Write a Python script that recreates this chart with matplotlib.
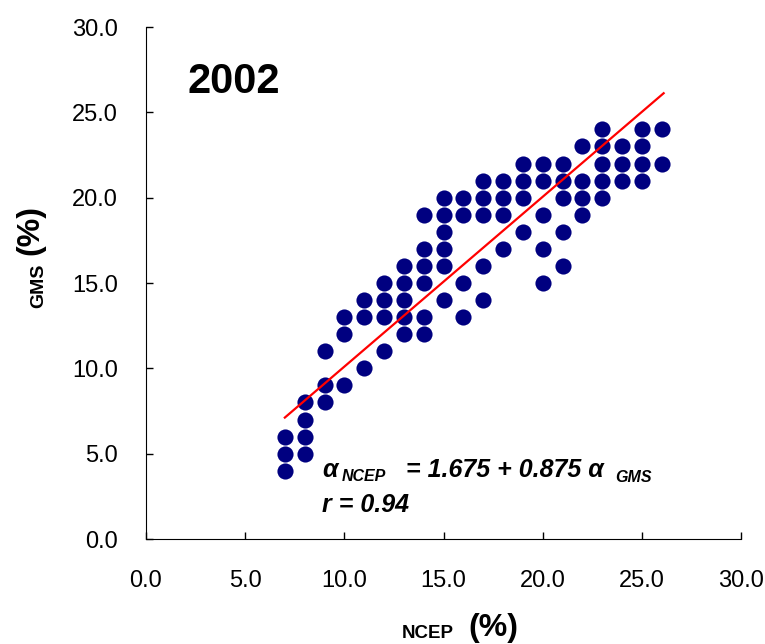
import matplotlib
matplotlib.use('Agg')
import matplotlib.pyplot as plt

# data (NCEP vs GMS, %)
ncep = [7, 7, 7,
        8, 8, 8, 8,
        9, 9, 9,
        10, 10, 10,
        11, 11, 11,
        12, 12, 12, 12,
        13, 13, 13, 13, 13,
        14, 14, 14, 14, 14, 14,
        15, 15, 15, 15, 15, 15,
        16, 16, 16, 16,
        17, 17, 17, 17, 17,
        18, 18, 18, 18,
        19, 19, 19, 19,
        20, 20, 20, 20, 20,
        21, 21, 21, 21, 21,
        22, 22, 22, 22,
        23, 23, 23, 23, 23,
        24, 24, 24,
        25, 25, 25, 25,
        26, 26]
gms = [4, 5, 6,
       5, 6, 7, 8,
       8, 9, 11,
       9, 12, 13,
       10, 13, 14,
       11, 13, 14, 15,
       12, 13, 14, 15, 16,
       12, 13, 15, 16, 17, 19,
       14, 16, 17, 18, 19, 20,
       13, 15, 19, 20,
       14, 16, 19, 20, 21,
       17, 19, 20, 21,
       18, 20, 21, 22,
       15, 17, 19, 21, 22,
       16, 18, 20, 21, 22,
       19, 20, 21, 23,
       20, 21, 22, 23, 24,
       21, 22, 23,
       21, 22, 23, 24,
       22, 24]

# fitted line as drawn on the chart
fit_slope = 0.995
fit_intercept = 0.15
fit_range = [7.0, 26.1]

ticks = [0, 5, 10, 15, 20, 25, 30]
tick_labels = ['0.0', '5.0', '10.0', '15.0', '20.0', '25.0', '30.0']

plt.rcParams['font.family'] = 'Liberation Sans'

W, H = 765, 644
fig = plt.figure(figsize=(W / 100, H / 100), dpi=100)
ax = fig.add_axes([146 / W, 1 - 539 / H, 595 / W, 512 / H])

ax.scatter(ncep, gms, s=135, color='#000080', zorder=2, linewidths=0)
line_y = [fit_intercept + fit_slope * v for v in fit_range]
ax.plot(fit_range, line_y, color='red', lw=1.6, zorder=3)

ax.set_xlim(0, 30)
ax.set_ylim(0, 30)
ax.set_xticks(ticks)
ax.set_xticklabels(tick_labels)
ax.set_yticks(ticks)
ax.set_yticklabels(tick_labels)
ax.spines['top'].set_visible(False)
ax.spines['right'].set_visible(False)
ax.tick_params(direction='in', length=5, width=1, labelsize=17)
ax.tick_params(axis='x', pad=22)
ax.tick_params(axis='y', pad=20)

ax.text(2.1, 26.8, '2002', fontsize=30, fontweight='bold', va='center', ha='left')

# regression equation, pieced together so the subscripts sit right
def ftext(x, y, s, size, **kw):
    fig.text(x / W, 1 - y / H, s, fontsize=size, fontweight='bold', style='italic',
             ha='left', va='baseline', **kw)

ftext(322, 477, '\u03b1', 18)
ftext(342, 481, 'NCEP', 11.5)
ftext(406, 477, '= 1.675 + 0.875 \u03b1', 18)
ftext(615, 482, 'GMS', 11.5)
ftext(322, 512, 'r = 0.94', 18)

# axis titles: small name + bigger (%)
fig.text(402 / W, 1 - 638 / H, 'NCEP', fontsize=13.5, fontweight='bold', ha='left', va='baseline')
fig.text(468 / W, 1 - 636 / H, '(%)', fontsize=23, fontweight='bold', ha='left', va='baseline')
fig.text(43 / W, 1 - 308 / H, 'GMS', fontsize=14, fontweight='bold', rotation=90,
         rotation_mode='anchor', ha='left', va='baseline')
fig.text(38 / W, 1 - 255 / H, '(%)', fontsize=23, fontweight='bold', rotation=90,
         rotation_mode='anchor', ha='left', va='baseline')

fig.savefig('out.png', dpi=100)
